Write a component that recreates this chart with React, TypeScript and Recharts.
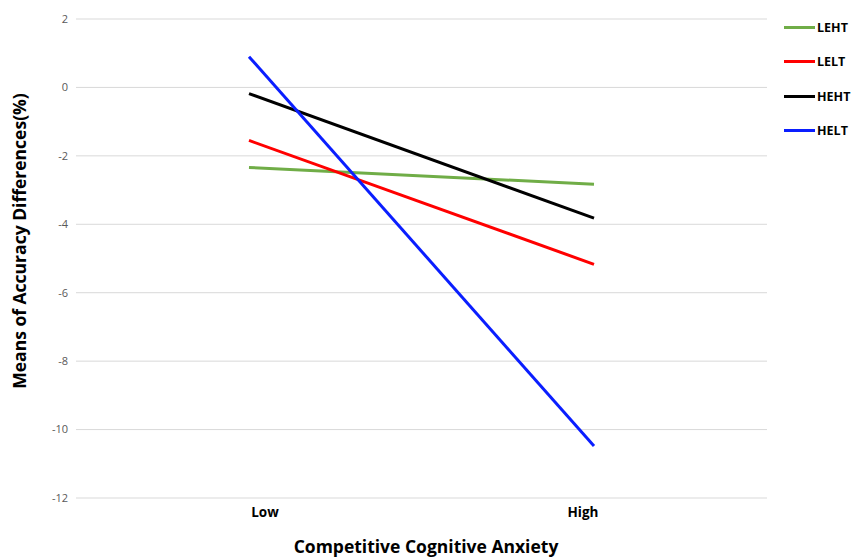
import { CartesianGrid, Legend, Line, LineChart, XAxis, YAxis } from "recharts"

const levels = ["Low", "High"]
const leht = [-2.34, -2.83]
const lelt = [-1.55, -5.17]
const heht = [-0.18, -3.82]
const helt = [0.9, -10.48]
const yTicks = [-12, -10, -8, -6, -4, -2, 0, 2]

const series = [
  { key: "LEHT", color: "#70ad47", values: leht },
  { key: "LELT", color: "#ff0000", values: lelt },
  { key: "HEHT", color: "#000000", values: heht },
  { key: "HELT", color: "#0a1eff", values: helt },
]

const data = levels.map((level, i) => {
  const row: Record<string, string | number> = { level }
  series.forEach((s) => {
    row[s.key] = s.values[i]
  })
  return row
})

const font = "'Open Sans', Lato, sans-serif"
// the category labels sit a little off the line ends in the original
const tickNudge = [16, -11]

function LegendBox() {
  return (
    <div style={{ fontFamily: font, fontWeight: 700, fontSize: 12.5, color: "#000" }}>
      {series.map((s) => (
        <div key={s.key} style={{ display: "flex", alignItems: "center", height: 34.5 }}>
          <span style={{ display: "inline-block", width: 31, height: 3, background: s.color, marginRight: 2 }} />
          {s.key}
        </div>
      ))}
    </div>
  )
}

function XTick(props: any) {
  const { x, y, payload, index } = props
  return (
    <text
      x={x + (tickNudge[index] ?? 0)}
      y={y + 11}
      textAnchor="middle"
      fontFamily={font}
      fontWeight={700}
      fontSize={13.5}
      fill="#000"
    >
      {payload.value}
    </text>
  )
}

export default function App() {
  return (
    <div style={{ position: "absolute", left: 0, top: 0 }}>
      <LineChart width={853} height={557} data={data} margin={{ top: 19, right: 16, bottom: 29, left: 36 }}>
        <CartesianGrid vertical={false} stroke="#d9d9d9" />
        <XAxis
          dataKey="level"
          axisLine={false}
          tickLine={false}
          padding={{ left: 173, right: 173 }}
          height={30}
          tick={<XTick />}
          label={{
            content: () => (
              <text x={426} y={553} textAnchor="middle" fontFamily={font} fontWeight={700} fontSize={17.5} fill="#000">
                Competitive Cognitive Anxiety
              </text>
            ),
          }}
        />
        <YAxis
          domain={[-12, 2]}
          ticks={yTicks}
          width={40}
          axisLine={false}
          tickLine={false}
          tick={{ fontFamily: font, fontSize: 11, fill: "#595959" }}
          label={{
            content: () => (
              <text
                x={26}
                y={241}
                transform="rotate(-90 26 241)"
                textAnchor="middle"
                fontFamily={font}
                fontWeight={700}
                fontSize={17.5}
                fill="#000"
              >
                Means of Accuracy Differences(%)
              </text>
            ),
          }}
        />
        <Legend
          layout="vertical"
          verticalAlign="top"
          align="right"
          content={<LegendBox />}
          wrapperStyle={{ top: 10, left: 784, width: 70 }}
        />
        {series.map((s) => (
          <Line
            key={s.key}
            dataKey={s.key}
            stroke={s.color}
            strokeWidth={3}
            dot={false}
            activeDot={false}
            isAnimationActive={false}
            type="linear"
          />
        ))}
      </LineChart>
    </div>
  )
}
